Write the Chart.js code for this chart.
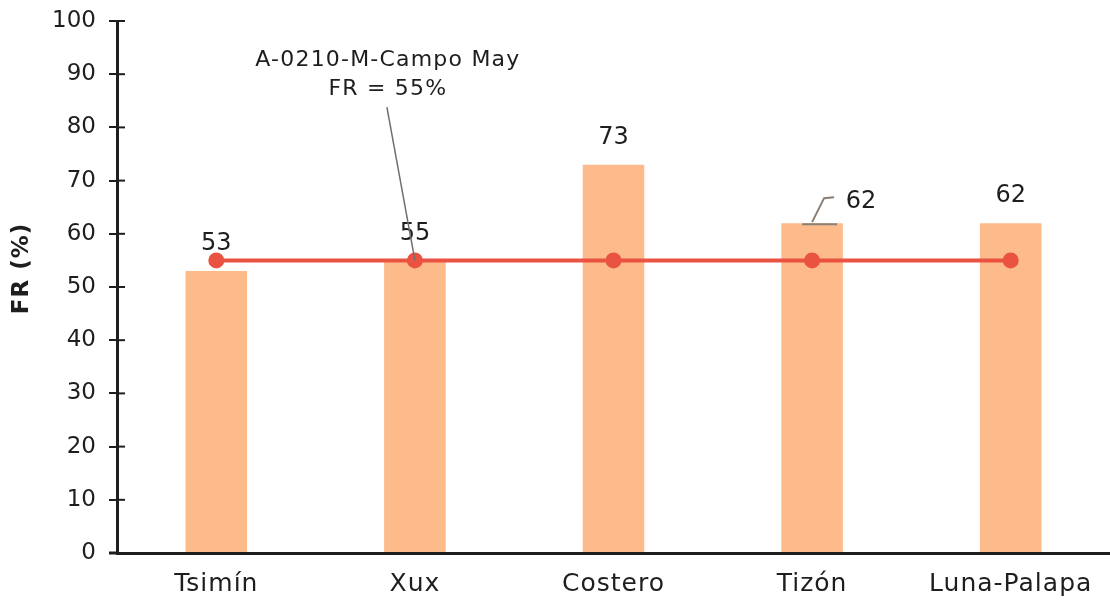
<!DOCTYPE html>
<html>
<head>
<meta charset="utf-8">
<style>
  html, body { margin: 0; padding: 0; background: #ffffff; overflow: hidden; }
  #wrap { width: 1120px; height: 604px; }
</style>
<script src="https://cdn.jsdelivr.net/npm/chart.js@4.4.1/dist/chart.umd.min.js"></script>
</head>
<body>
<div id="wrap"><canvas id="c" width="1120" height="604"></canvas></div>
<script>
// Sites and their fill rate (%)
const categories = ['Tsimín', 'Xux', 'Costero', 'Tizón', 'Luna-Palapa'];
const frValues = [53, 55, 73, 62, 62];
// Reference site A-0210-M-Campo May
const referenceLabel = ['A-0210-M-Campo May', 'FR = 55%'];
const referenceValue = 55;
const referenceLine = categories.map(() => referenceValue);
const yTicks = [0, 10, 20, 30, 40, 50, 60, 70, 80, 90, 100];

const FONT = "'DejaVu Sans', sans-serif";
const INK = '#1e1e1e';

const overlay = {
  id: 'overlay',
  afterDraw(chart) {
    const { ctx, scales: { x, y } } = chart;
    ctx.save();
    // inner half of the y-axis tick marks
    ctx.strokeStyle = INK;
    ctx.lineWidth = 2;
    yTicks.forEach(v => {
      const py = y.getPixelForValue(v);
      ctx.beginPath();
      ctx.moveTo(x.left, py);
      ctx.lineTo(x.left + 8, py);
      ctx.stroke();
    });
    // x axis stub left of the y axis
    ctx.lineWidth = 3;
    ctx.beginPath();
    ctx.moveTo(x.left - 8, y.bottom);
    ctx.lineTo(x.left, y.bottom);
    ctx.stroke();

    ctx.fillStyle = INK;
    ctx.textAlign = 'center';
    ctx.textBaseline = 'middle';

    // category labels under the axis
    ctx.letterSpacing = '1px';
    ctx.font = '25px ' + FONT;
    categories.forEach((c, i) => {
      ctx.fillText(c, x.getPixelForValue(i), y.bottom + 31);
    });

    // y axis title
    ctx.save();
    ctx.translate(22, y.getPixelForValue(53.5));
    ctx.rotate(-Math.PI / 2);
    ctx.letterSpacing = '1px';
    ctx.font = 'bold 23px ' + FONT;
    ctx.fillText('FR (%)', 0, 0);
    ctx.restore();

    // value labels above the bars
    const bars = chart.getDatasetMeta(1).data;
    ctx.letterSpacing = '0px';
    ctx.font = '24px ' + FONT;
    frValues.forEach((v, i) => {
      const b = bars[i];
      ctx.fillStyle = INK;
      if (categories[i] === 'Tizón') {
        // label pushed aside with a leader
        ctx.fillText(String(v), b.x + 49, b.y - 21);
        ctx.strokeStyle = '#8a7f74';
        ctx.lineWidth = 2;
        ctx.beginPath();
        ctx.moveTo(b.x - 10, b.y + 1);
        ctx.lineTo(b.x + 25, b.y + 1);
        ctx.stroke();
        ctx.beginPath();
        ctx.moveTo(b.x, b.y - 1);
        ctx.lineTo(b.x + 12, b.y - 25);
        ctx.lineTo(b.x + 22, b.y - 26);
        ctx.stroke();
      } else {
        ctx.fillText(String(v), b.x, b.y - 27);
      }
    });

    // callout for the reference site
    const p = chart.getDatasetMeta(0).data[1];
    ctx.fillStyle = INK;
    ctx.letterSpacing = '1.2px';
    ctx.font = '22px ' + FONT;
    ctx.fillText(referenceLabel[0], p.x - 27, y.getPixelForValue(92.6));
    ctx.fillText(referenceLabel[1], p.x - 27, y.getPixelForValue(87.2));
    ctx.strokeStyle = '#6f6f6f';
    ctx.lineWidth = 1.5;
    ctx.beginPath();
    ctx.moveTo(p.x - 28, y.getPixelForValue(83.8));
    ctx.lineTo(p.x, p.y);
    ctx.stroke();
    ctx.restore();
  }
};

new Chart(document.getElementById('c'), {
  data: {
    labels: categories,
    datasets: [
      {
        type: 'line',
        data: referenceLine,
        borderColor: '#ea5341',
        backgroundColor: '#ea5341',
        borderWidth: 4,
        pointRadius: 6,
        pointHoverRadius: 6,
        order: 0
      },
      {
        type: 'bar',
        data: frValues,
        backgroundColor: '#fdbb8b',
        barPercentage: 0.31,
        categoryPercentage: 1,
        order: 1
      }
    ]
  },
  options: {
    responsive: false,
    animation: false,
    events: [],
    layout: { padding: { top: 21, right: 3, bottom: 0, left: 0 } },
    plugins: { legend: { display: false }, tooltip: { enabled: false } },
    scales: {
      x: {
        grid: { display: false, drawTicks: false },
        border: { display: true, color: INK, width: 3 },
        ticks: { display: false },
        afterFit(s) { s.height = 51; }
      },
      y: {
        min: 0, max: 100,
        afterBuildTicks(s) { s.ticks = yTicks.map(v => ({ value: v })); },
        grid: { drawOnChartArea: false, drawTicks: true, tickLength: 8, color: INK, lineWidth: 2 },
        border: { display: true, color: INK, width: 3 },
        ticks: { color: INK, font: { family: FONT, size: 23 }, padding: 13 },
        afterFit(s) { s.width = 117; s.paddingTop = 0; s.paddingBottom = 0; }
      }
    }
  },
  plugins: [overlay]
});
</script>
</body>
</html>
